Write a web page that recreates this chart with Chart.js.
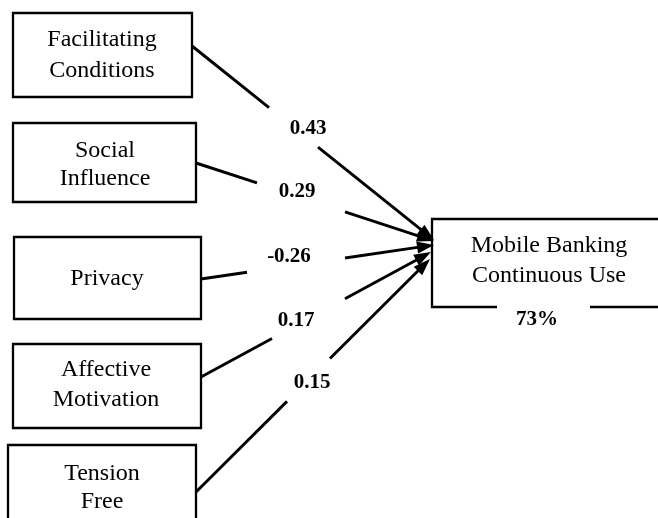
<!DOCTYPE html>
<html>
<head>
<meta charset="utf-8">
<script src="https://cdn.jsdelivr.net/npm/chart.js@4/dist/chart.umd.min.js"></script>
<style>
  html, body { margin: 0; padding: 0; background: #ffffff; }
  #wrap { width: 658px; height: 518px; }
</style>
</head>
<body>
<div id="wrap"><canvas id="c" width="658" height="518"></canvas></div>
<script>
// ---------- DATA ----------
const predictors = ['Facilitating Conditions', 'Social Influence', 'Privacy', 'Affective Motivation', 'Tension Free'];
const predictorLines = [['Facilitating', 'Conditions'], ['Social', 'Influence'], ['Privacy'], ['Affective', 'Motivation'], ['Tension', 'Free']];
const coefficients = [0.43, 0.29, -0.26, 0.17, 0.15];
const outcomeLines = ['Mobile Banking', 'Continuous Use'];
const rSquaredPct = 73;

// ---------- LAYOUT (pixel-space units of the hidden linear scales) ----------
const boxes = [
  { l: 13, r: 192, t: 13, b: 97, base: [46, 77], cx: 102 },
  { l: 13, r: 196, t: 123, b: 202, base: [157, 185], cx: 105 },
  { l: 14, r: 201, t: 237, b: 319, base: [285], cx: 107 },
  { l: 13, r: 201, t: 344, b: 428, base: [376, 406], cx: 106 },
  { l: 8, r: 196, t: 445, b: 530, base: [480, 508], cx: 102 }
];
const arrows = [
  { src: [192, 46], tip: [434, 240], gap: [269, 318], lab: [308, 129] },
  { src: [196, 163], tip: [434, 241], gap: [257, 345], lab: [297, 192] },
  { src: [201, 279], tip: [434, 245], gap: [247, 345], lab: [289, 257] },
  { src: [201, 377], tip: [431, 252], gap: [272, 345], lab: [296, 321] },
  { src: [196, 492], tip: [430, 259], gap: [287, 330], lab: [312, 383] }
];
const target = { l: 432, t: 219, b: 307, r: 662, gapL: 497, gapR: 590, cx: 549, base: [252, 282], rLab: [537, 320] };
const HEAD_LEN = 17, HEAD_W = 12;

function fmtCoef(v) { return (v < 0 ? '-' : '') + Math.abs(v).toFixed(2); }

function yAt(a, x) {
  const [x0, y0] = a.src, [x1, y1] = a.tip;
  return y0 + (x - x0) * (y1 - y0) / (x1 - x0);
}

const datasets = [];
const blk = '#000000';
// predictor boxes (path starts mid top edge so every corner is a clean join)
boxes.forEach((b, i) => {
  const mx = (b.l + b.r) / 2;
  datasets.push({
    label: predictors[i] + ' box',
    data: [{x: mx, y: b.t}, {x: b.r, y: b.t}, {x: b.r, y: b.b}, {x: b.l, y: b.b}, {x: b.l, y: b.t}, {x: mx, y: b.t}],
    showLine: true, borderColor: blk, borderWidth: 2.3, pointRadius: 0, fill: false, tension: 0,
    borderJoinStyle: 'miter'
  });
});
// outcome box (open on the right, gap in bottom for R²)
datasets.push({
  label: 'outcome box',
  data: [{x: target.gapL, y: target.b}, {x: target.l, y: target.b}, {x: target.l, y: target.t}, {x: target.r, y: target.t},
         {x: target.r, y: null}, {x: target.gapR, y: target.b}, {x: target.r, y: target.b}],
  showLine: true, spanGaps: false, borderColor: blk, borderWidth: 2.3, pointRadius: 0, fill: false, tension: 0,
  borderJoinStyle: 'miter'
});
// path lines (with gap for coefficient label)
arrows.forEach((a, i) => {
  const [x0, y0] = a.src, [x1, y1] = a.tip;
  const len = Math.hypot(x1 - x0, y1 - y0);
  const ex = x1 - (x1 - x0) / len * (HEAD_LEN - 2);
  const ey = y1 - (y1 - y0) / len * (HEAD_LEN - 2);
  datasets.push({
    label: predictors[i] + ' path (' + fmtCoef(coefficients[i]) + ')',
    data: [{x: x0, y: y0}, {x: a.gap[0], y: yAt(a, a.gap[0])}, {x: (a.gap[0] + a.gap[1]) / 2, y: null},
           {x: a.gap[1], y: yAt(a, a.gap[1])}, {x: ex, y: ey}],
    showLine: true, spanGaps: false, borderColor: blk, borderWidth: 2.9, pointRadius: 0, fill: false, tension: 0
  });
});

const diagramPlugin = {
  id: 'diagram',
  afterDatasetsDraw(chart) {
    const ctx = chart.ctx, xs = chart.scales.x, ys = chart.scales.y;
    const X = v => xs.getPixelForValue(v), Y = v => ys.getPixelForValue(v);
    ctx.save();
    // arrowheads
    ctx.fillStyle = blk;
    arrows.forEach(a => {
      const tx = X(a.tip[0]), ty = Y(a.tip[1]);
      const sx = X(a.src[0]), sy = Y(a.src[1]);
      const ang = Math.atan2(ty - sy, tx - sx);
      ctx.beginPath();
      ctx.moveTo(tx, ty);
      ctx.lineTo(tx - HEAD_LEN * Math.cos(ang) + HEAD_W / 2 * Math.sin(ang), ty - HEAD_LEN * Math.sin(ang) - HEAD_W / 2 * Math.cos(ang));
      ctx.lineTo(tx - HEAD_LEN * Math.cos(ang) - HEAD_W / 2 * Math.sin(ang), ty - HEAD_LEN * Math.sin(ang) + HEAD_W / 2 * Math.cos(ang));
      ctx.closePath();
      ctx.fill();
    });
    // box texts
    ctx.textAlign = 'center';
    ctx.textBaseline = 'alphabetic';
    ctx.font = '24px "Liberation Serif", "Times New Roman", serif';
    boxes.forEach((b, i) => {
      predictorLines[i].forEach((t, k) => ctx.fillText(t, X(b.cx), Y(b.base[k])));
    });
    outcomeLines.forEach((t, k) => ctx.fillText(t, X(target.cx), Y(target.base[k])));
    // coefficients
    ctx.textBaseline = 'middle';
    ctx.font = 'bold 21px "Liberation Serif", "Times New Roman", serif';
    arrows.forEach((a, i) => ctx.fillText(fmtCoef(coefficients[i]), X(a.lab[0]), Y(a.lab[1])));
    ctx.fillText(rSquaredPct + '%', X(target.rLab[0]), Y(target.rLab[1]));
    ctx.restore();
  }
};

new Chart(document.getElementById('c'), {
  type: 'scatter',
  data: { datasets },
  options: {
    responsive: false,
    animation: false,
    events: [],
    layout: { padding: 0 },
    plugins: { legend: { display: false }, tooltip: { enabled: false } },
    datasets: { scatter: { clip: false } },
    scales: {
      x: { type: 'linear', min: 0, max: 658, display: false },
      y: { type: 'linear', min: 0, max: 518, reverse: true, display: false }
    }
  },
  plugins: [diagramPlugin]
});
</script>
</body>
</html>
